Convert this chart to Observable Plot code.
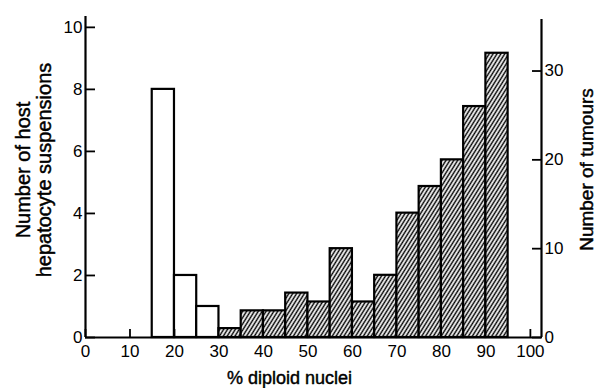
<!DOCTYPE html>
<html><head><meta charset="utf-8">
<script src="https://cdn.jsdelivr.net/npm/d3@7"></script>
<script src="https://cdn.jsdelivr.net/npm/@observablehq/plot@0.6"></script>
<style>
body{margin:0;background:#fff}
#wrap{position:relative;width:596px;height:388px}
#wrap svg{position:absolute;left:0;top:0}
</style></head><body><div id="wrap"></div>
<script>
// Host hepatocyte suspensions (left axis), 5%-wide bins
const hostBinStart = [15, 20, 25];
const hostCounts = [8, 2, 1];
// Tumours (right axis), 5%-wide bins
const tumourBinStart = [30, 35, 40, 45, 50, 55, 60, 65, 70, 75, 80, 85, 90];
const tumourCounts = [1, 3, 3, 5, 4, 10, 4, 7, 14, 17, 20, 26, 32];
const binWidth = 5;
const xTicks = [0, 10, 20, 30, 40, 50, 60, 70, 80, 90, 100];
const leftTicks = [0, 2, 4, 6, 8, 10];
const rightTicks = [0, 10, 20, 30];
const xDomain = [0, 102.5];
const leftDomain = [0, 10.35];
const rightDomain = [0, 35.8];
const leftTitle = "Number of host\nhepatocyte suspensions";
const rightTitle = "Number of tumours";
const bottomTitle = "% diploid nuclei";

const host = hostBinStart.map((s, i) => ({x1: s, x2: s + binWidth, y: hostCounts[i]}));
const tumours = tumourBinStart.map((s, i) => ({x1: s, x2: s + binWidth, y: tumourCounts[i]}));

const common = {
  width: 596, height: 388,
  marginLeft: 85, marginRight: 55, marginTop: 16, marginBottom: 51,
  style: {fontFamily: "'Liberation Sans', Arial, sans-serif", fontSize: "17px", color: "black", background: "transparent", overflow: "visible"}
};

const titleStyle = {fill: "black", stroke: "black", strokeWidth: 0.45};

const chartA = Plot.plot({
  ...common,
  x: {domain: xDomain},
  y: {domain: leftDomain},
  marks: [
    Plot.rectY(host, {x1: "x1", x2: "x2", y: "y", fill: "white", stroke: "black", strokeWidth: 2.2}),
    Plot.ruleY([0], {strokeWidth: 2.2}),
    Plot.ruleX([xDomain[0]], {strokeWidth: 2.2}),
    Plot.axisY(leftTicks, {anchor: "left", tickSize: 10, dx: 10, tickFormat: () => "", label: null, strokeWidth: 1.8}),
    Plot.axisY(leftTicks, {anchor: "left", tickSize: 0, tickPadding: 3, label: null, fontSize: 17}),
    Plot.axisX(xTicks, {anchor: "bottom", tickSize: 8, dy: -8, tickFormat: () => "", label: null, strokeWidth: 1.8}),
    Plot.axisX(xTicks, {anchor: "bottom", tickSize: 0, tickPadding: 7, label: null, fontSize: 17}),
    Plot.text([leftTitle], {text: d => d, frameAnchor: "left", textAnchor: "middle", lineAnchor: "middle", rotate: -90, dx: -52, dy: -7, fontSize: 20, lineHeight: 1.05, ...titleStyle}),
    Plot.text([bottomTitle], {text: d => d, frameAnchor: "bottom", textAnchor: "middle", lineAnchor: "middle", dx: -24, dy: 41, fontSize: 18, ...titleStyle})
  ]
});

const chartB = Plot.plot({
  ...common,
  marginTop: 19,
  x: {domain: xDomain, axis: null},
  y: {domain: rightDomain},
  marks: [
    Plot.rectY(tumours, {x1: "x1", x2: "x2", y: "y", fill: "url(#hatch)", stroke: "black", strokeWidth: 2.2}),
    Plot.ruleX([xDomain[1]], {strokeWidth: 2.2}),
    Plot.axisY(rightTicks, {anchor: "right", tickSize: 10, dx: -10, tickFormat: () => "", label: null, strokeWidth: 1.8}),
    Plot.axisY(rightTicks, {anchor: "right", tickSize: 0, tickPadding: 3, label: null, fontSize: 17}),
    Plot.text([rightTitle], {text: d => d, frameAnchor: "right", textAnchor: "middle", lineAnchor: "middle", rotate: -90, dx: 45, dy: -9, fontSize: 19, ...titleStyle})
  ]
});

// hatch pattern definition
const ns = "http://www.w3.org/2000/svg";
const defs = document.createElementNS(ns, "defs");
const pat = document.createElementNS(ns, "pattern");
pat.setAttribute("id", "hatch");
pat.setAttribute("patternUnits", "userSpaceOnUse");
pat.setAttribute("width", "3.3");
pat.setAttribute("height", "10");
pat.setAttribute("patternTransform", "rotate(32)");
const bg = document.createElementNS(ns, "rect");
bg.setAttribute("width", "3.3"); bg.setAttribute("height", "10"); bg.setAttribute("fill", "white");
const ln = document.createElementNS(ns, "line");
ln.setAttribute("x1", "1.2"); ln.setAttribute("x2", "1.2");
ln.setAttribute("y1", "0"); ln.setAttribute("y2", "10");
ln.setAttribute("stroke", "black"); ln.setAttribute("stroke-width", "1.5");
pat.appendChild(bg); pat.appendChild(ln);
defs.appendChild(pat);
chartB.insertBefore(defs, chartB.firstChild);

const wrap = document.getElementById("wrap");
wrap.appendChild(chartA);
wrap.appendChild(chartB);
</script>
</body></html>
